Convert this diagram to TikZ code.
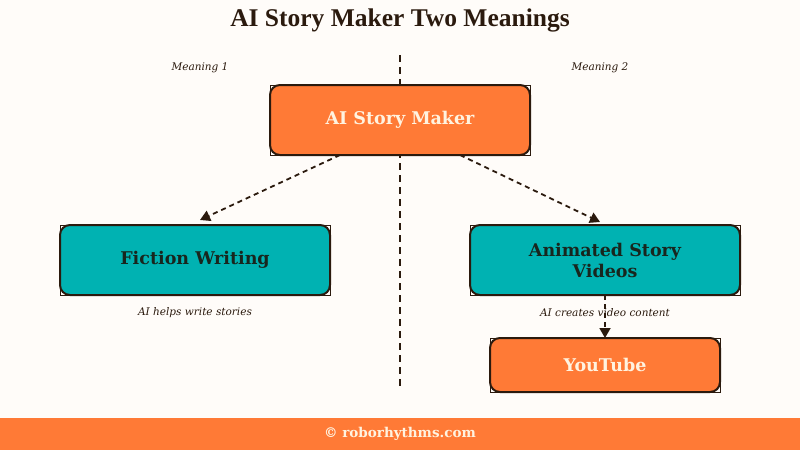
\documentclass[tikz,border=0pt]{standalone}
\usepackage{fontspec}
\setmainfont{DejaVu Serif}
\newfontfamily\titlefont{Liberation Serif}
\usetikzlibrary{positioning}
\usetikzlibrary{calc}
\usetikzlibrary{arrows.meta}
\definecolor{paper}{RGB}{255,252,249}
\definecolor{orng}{RGB}{255,122,54}
\definecolor{teal}{RGB}{0,178,178}
\definecolor{ink}{RGB}{43,26,14}
\definecolor{cream}{RGB}{255,243,224}
\definecolor{darktext}{RGB}{24,38,30}

\begin{document}
\begin{tikzpicture}[x=1pt, y=-1pt,
    box/.style={draw=ink, line width=2pt, rounded corners=10pt, outer sep=0pt, align=center, font=\bfseries\fontsize{17.5}{21}\selectfont},
    orangebox/.style={box, fill=orng, text=cream},
    tealbox/.style={box, fill=teal, text=darktext},
    cornerline/.style={draw=ink, line width=1pt},
    link/.style={draw=ink, line width=1.8pt, dash pattern=on 5pt off 4pt, -{Triangle[length=10pt,width=11pt]}},
    note/.style={font=\itshape\fontsize{10.5}{12}\selectfont, text=ink}]
    \useasboundingbox (0,0) rectangle (800,450);
    \fill[paper] (0,0) rectangle (800,450);
    \node[fill=orng, minimum width=800pt, minimum height=32pt, inner sep=0pt] (footer) at (400,434) {};
    \node[text=cream, font=\bfseries\fontsize{13.5}{15}\selectfont] (site) at (footer) {© roborhythms.com};

    \node[text=ink, font=\titlefont\bfseries\fontsize{25.5}{28}\selectfont] (title) at (400,20) {AI Story Maker Two Meanings};
    \node[note] (m1) at (200,68) {Meaning 1};
    \node[note] (m2) at (600,68) {Meaning 2};
    \coordinate (divtop) at (400,55);
    \coordinate (divbot) at (400,390);
    \draw[ink, line width=1.8pt, dash pattern=on 7pt off 5pt] (divtop) -- (divbot);

    \node[orangebox, minimum width=260pt, minimum height=70pt] (maker) at (400,120) {AI Story Maker};
    \node[tealbox, minimum width=270pt, minimum height=70pt] (fiction) at (195,260) {Fiction Writing};
    \node[tealbox, minimum width=270pt, minimum height=70pt] (animated) at (605,260) {Animated Story\\Videos};
    \node[orangebox, minimum width=230pt, minimum height=54pt] (youtube) at (605,365) {YouTube};
    \foreach \n in {maker,fiction,animated,youtube}
        \draw[cornerline] (\n.south west) rectangle (\n.north east);

    \draw[link] ([xshift=-60pt]maker.south) -- ([xshift=5pt, yshift=5pt]fiction.north);
    \draw[link] ([xshift=60pt]maker.south) -- ([xshift=-5pt, yshift=3pt]animated.north);
    \draw[link] (animated.south) -- (youtube.north);

    \node[note] (helps) at (195,313) {AI helps write stories};
    \node[note] (creates) at (605,313) {AI creates video content};
\end{tikzpicture}
\end{document}
